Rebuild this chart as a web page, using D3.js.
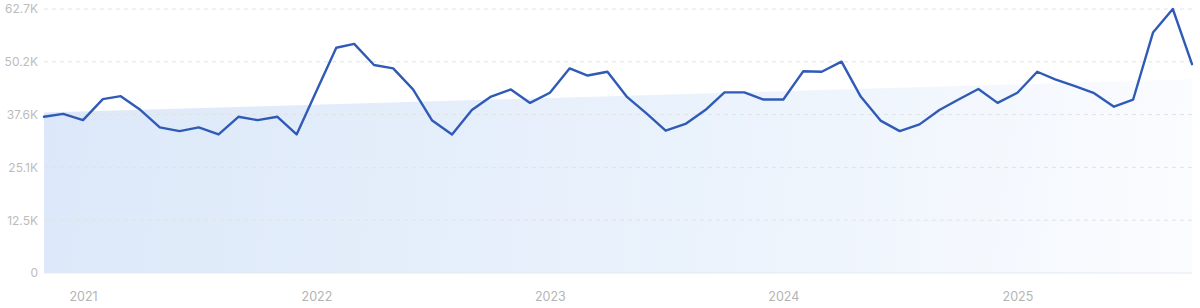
<!DOCTYPE html>
<html>
<head>
<meta charset="utf-8">
<script src="https://cdn.jsdelivr.net/npm/d3@7"></script>
<style>
  html, body { margin: 0; padding: 0; background: #ffffff; }
  svg { display: block; }
  text { font-family: Inter, "Noto Sans", sans-serif; }
</style>
</head>
<body>
<svg id="chart" width="1200" height="308"></svg>
<script>
// ---- data ----
const startMonth = new Date(2020, 10, 1);   // Nov 2020
const endMonth = new Date(2025, 10, 1);     // exclusive (last = Oct 2025)
const months = d3.timeMonth.range(startMonth, endMonth);
const values = [
  37100, 37800, 36300, 41300, 42000, 38700, 34600, 33700, 34600, 32900, 37100, 36300,
  37100, 32900, 43200, 53500, 54400, 49400, 48600, 43600, 36200, 32900, 38700, 41900,
  43600, 40400, 42800, 48600, 46900, 47800, 41900, 37900, 33800, 35400, 38700, 42900,
  42900, 41200, 41200, 47900, 47800, 50200, 41900, 36200, 33700, 35300, 38700, 41200,
  43700, 40400, 42800, 47800, 46000, 44400, 42700, 39500, 41200, 57100, 62700, 49600
];
const trendValues = [38100, 46000];           // trend band at first and last month
const yTicks = [0, 12540, 25080, 37620, 50160, 62700];
const yTickLabels = ["0", "12.5K", "25.1K", "37.6K", "50.2K", "62.7K"];
const xTickYears = [2021, 2022, 2023, 2024, 2025];

// ---- layout ----
const svg = d3.select("#chart");
const mLeft = 44, mRight = 1192, mTop = 9, mBottom = 273;

const x = d3.scaleTime()
  .domain([months[0], months[months.length - 1]])
  .range([mLeft, mRight]);
const y = d3.scaleLinear().domain([0, 62700]).range([mBottom, mTop]);

// gradient
const defs = svg.append("defs");
const grad = defs.append("linearGradient")
  .attr("id", "bandGrad")
  .attr("gradientUnits", "userSpaceOnUse")
  .attr("x1", mLeft).attr("y1", y(trendValues[0]))
  .attr("x2", mRight).attr("y2", mBottom);
grad.append("stop").attr("offset", "0%").attr("stop-color", "#dce8f9");
grad.append("stop").attr("offset", "55%").attr("stop-color", "#eaf2fc");
grad.append("stop").attr("offset", "100%").attr("stop-color", "#fbfcff");

// trend band area
const bandData = [
  { d: months[0], v: trendValues[0] },
  { d: months[months.length - 1], v: trendValues[1] }
];
svg.append("path")
  .datum(bandData)
  .attr("fill", "url(#bandGrad)")
  .attr("d", d3.area().x(p => x(p.d)).y0(y(0)).y1(p => y(p.v)));

// grid lines
const grid = svg.append("g");
yTicks.forEach((t, i) => {
  grid.append("line")
    .attr("x1", mLeft).attr("x2", mRight)
    .attr("y1", y(t)).attr("y2", y(t))
    .attr("stroke", i === 0 ? "#e3e9f3" : "#e2e2e2")
    .attr("stroke-width", 1)
    .attr("stroke-dasharray", i === 0 ? null : "4,4");
});

// y axis labels
const yAxis = d3.axisLeft(y)
  .tickValues(yTicks)
  .tickFormat((d, i) => yTickLabels[i])
  .tickSize(0)
  .tickPadding(6);
const gy = svg.append("g").attr("transform", `translate(${mLeft},0)`).call(yAxis);
gy.select(".domain").remove();
gy.selectAll("text").attr("fill", "#bcbcbc").style("font-size", "12px");

// x axis labels
const xAxis = d3.axisBottom(x)
  .tickValues(xTickYears.map(yr => new Date(yr, 0, 1)))
  .tickFormat(d3.timeFormat("%Y"))
  .tickSize(0)
  .tickPadding(19);
const gx = svg.append("g").attr("transform", `translate(0,${mBottom})`).call(xAxis);
gx.select(".domain").remove();
gx.selectAll("text").attr("fill", "#b4b4b4").style("font-size", "12.5px");

// line
svg.append("path")
  .datum(values)
  .attr("fill", "none")
  .attr("stroke", "#2f5bb7")
  .attr("stroke-width", 2.4)
  .attr("stroke-linejoin", "round")
  .attr("stroke-linecap", "round")
  .attr("d", d3.line().x((v, i) => x(months[i])).y(v => y(v)));
</script>
</body>
</html>
